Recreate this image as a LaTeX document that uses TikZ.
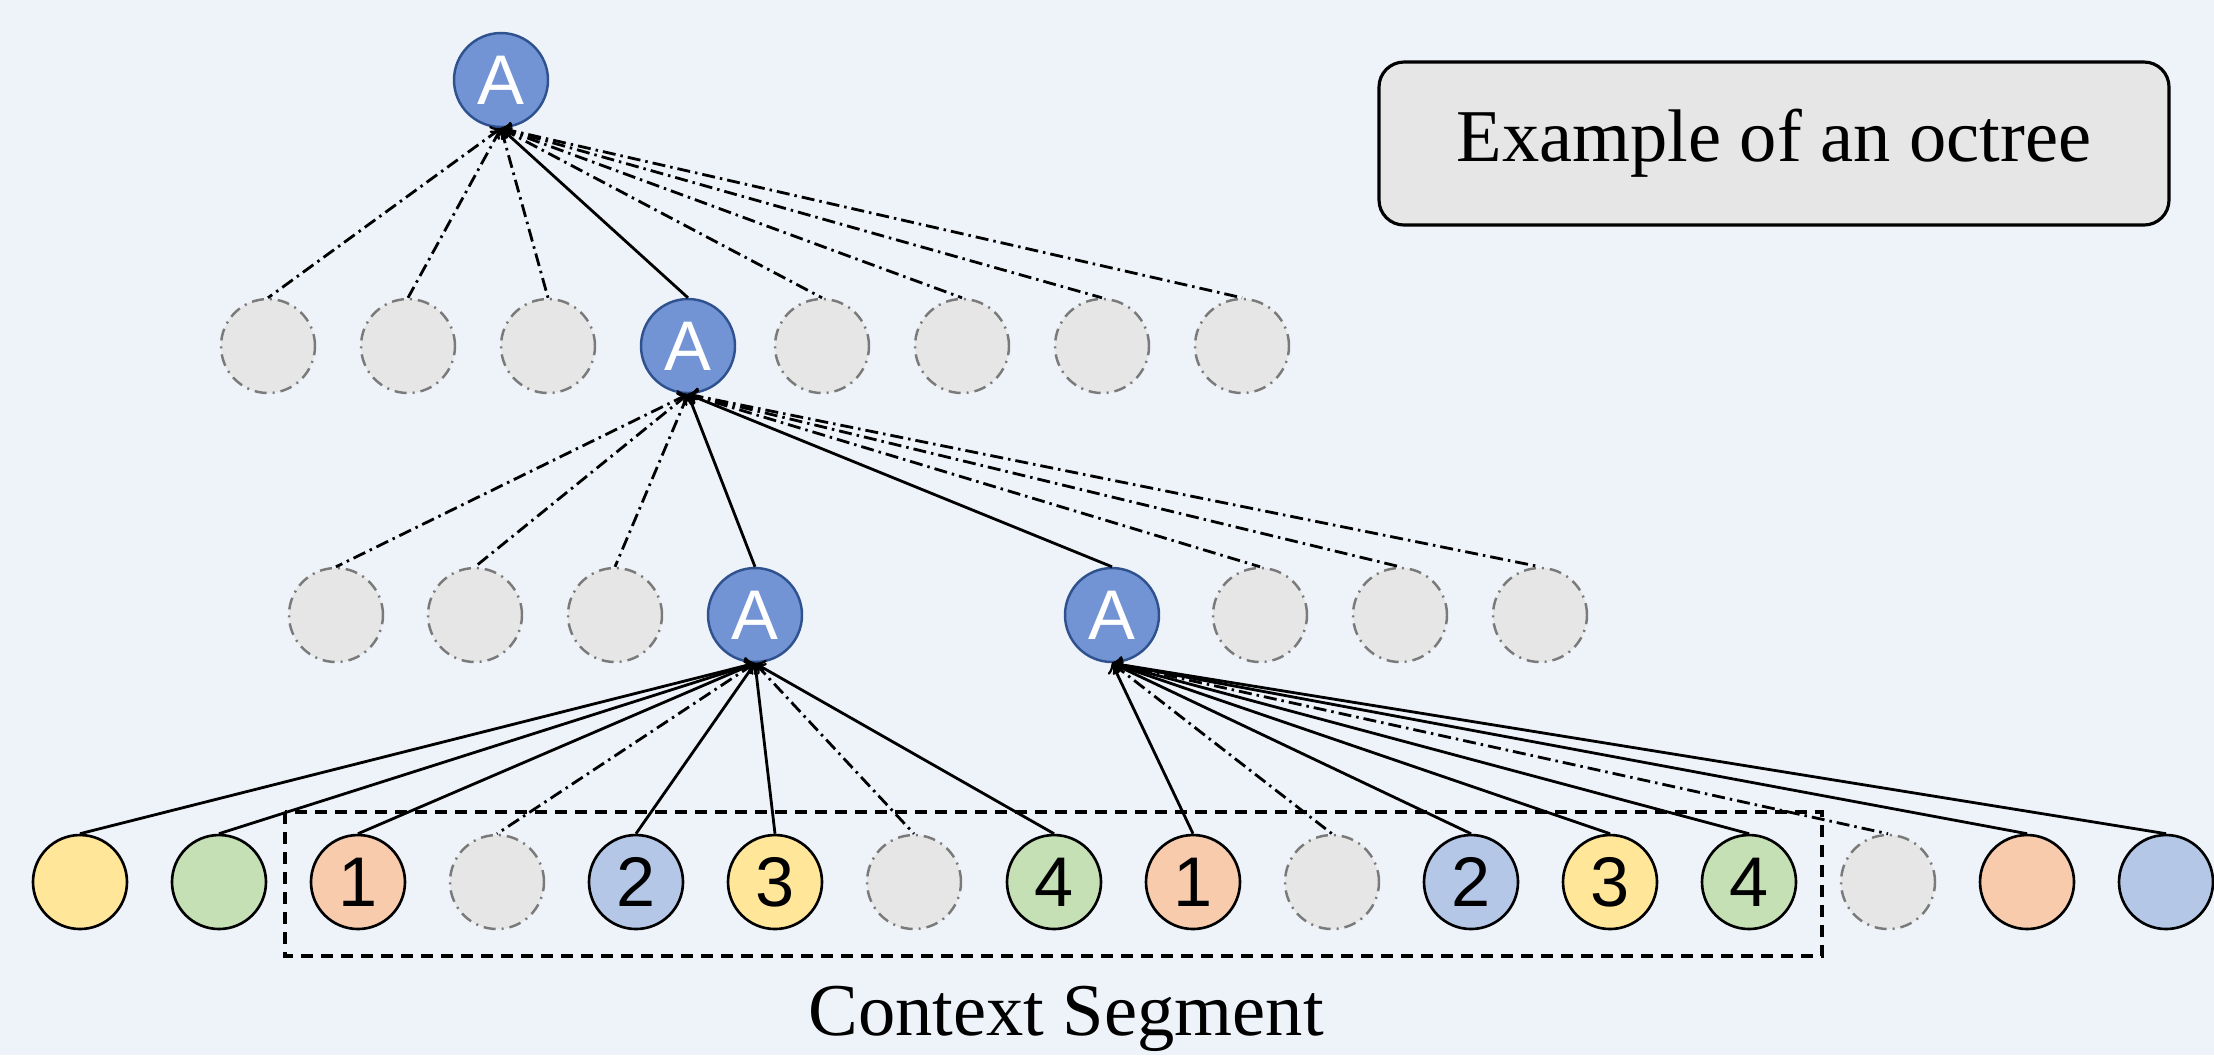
\documentclass[tikz,border=0pt]{standalone}
\usepackage{fontspec}
\setmainfont{Liberation Serif}
\newfontfamily\labelfont{Liberation Sans}
\usepackage{xcolor}
\definecolor{bgcolor}{HTML}{EEF3FA}
\definecolor{nodefill}{HTML}{7394D4}
\definecolor{nodeline}{HTML}{2F528F}
\definecolor{vacantfill}{HTML}{E7E6E6}
\definecolor{vacantline}{HTML}{7A7A7A}
\definecolor{yellowfill}{HTML}{FFE699}
\definecolor{greenfill}{HTML}{C5E0B4}
\definecolor{orangefill}{HTML}{F8CBAD}
\definecolor{bluefill}{HTML}{B4C7E7}
\newcommand{\drawbackground}{
	% background to the whole picture
	\fill[bgcolor] (0, 0) rectangle (22.14, 10.55);
}
\newcommand{\bigfont}{\fontsize{21.2}{21.2}\selectfont}
\newcommand{\digitfont}{\labelfont\fontsize{20}{20}\selectfont}
\tikzset{
	occupied/.style={circle,draw=nodeline,line width=0.7pt,fill=nodefill,text=white,minimum size=9.4mm,inner sep=0pt,font=\digitfont},
	vacant/.style={circle,draw=vacantline,line width=0.7pt,fill=vacantfill,minimum size=9.4mm,inner sep=0pt,dash pattern=on 1.2mm off 0.6mm on 0.2mm off 0.6mm},
	leaf/.style={circle,draw=black,line width=0.75pt,minimum size=9.4mm,inner sep=0pt,font=\digitfont},
	link/.style={<-,line width=0.8pt},
	ghostlink/.style={<-,line width=0.8pt,dash pattern=on 1.3mm off 0.5mm on 0.25mm off 0.5mm},
}

\begin{document}
\begin{tikzpicture}[yscale=-1]

\useasboundingbox (0, 0) rectangle (22.14, 10.55);
\drawbackground

% root
\node [occupied] (a) at (5.01, 0.80) {A};

% first level
\node [vacant] (b1) at (2.68, 3.46) {};
\node [vacant] (b2) at (4.08, 3.46) {};
\node [vacant] (b3) at (5.48, 3.46) {};
\node [occupied] (b4) at (6.88, 3.46) {A};
\node [vacant] (b5) at (8.22, 3.46) {};
\node [vacant] (b6) at (9.62, 3.46) {};
\node [vacant] (b7) at (11.02, 3.46) {};
\node [vacant] (b8) at (12.42, 3.46) {};

% second level
\node [vacant] (c1) at (3.36, 6.15) {};
\node [vacant] (c2) at (4.75, 6.15) {};
\node [vacant] (c3) at (6.15, 6.15) {};
\node [occupied] (c4) at (7.55, 6.15) {A};
\node [occupied] (c5) at (11.12, 6.15) {A};
\node [vacant] (c6) at (12.60, 6.15) {};
\node [vacant] (c7) at (14.00, 6.15) {};
\node [vacant] (c8) at (15.40, 6.15) {};

% leaves
\node [leaf,fill=yellowfill] (d1) at (0.80, 8.82) {};
\node [leaf,fill=greenfill] (d2) at (2.19, 8.82) {};
\node [leaf,fill=orangefill] (d3) at (3.58, 8.82) {1};
\node [vacant] (d4) at (4.97, 8.82) {};
\node [leaf,fill=bluefill] (d5) at (6.36, 8.82) {2};
\node [leaf,fill=yellowfill] (d6) at (7.75, 8.82) {3};
\node [vacant] (d7) at (9.14, 8.82) {};
\node [leaf,fill=greenfill] (d8) at (10.54, 8.82) {4};
\node [leaf,fill=orangefill] (d9) at (11.93, 8.82) {1};
\node [vacant] (d10) at (13.32, 8.82) {};
\node [leaf,fill=bluefill] (d11) at (14.71, 8.82) {2};
\node [leaf,fill=yellowfill] (d12) at (16.10, 8.82) {3};
\node [leaf,fill=greenfill] (d13) at (17.49, 8.82) {4};
\node [vacant] (d14) at (18.88, 8.82) {};
\node [leaf,fill=orangefill] (d15) at (20.27, 8.82) {};
\node [leaf,fill=bluefill] (d16) at (21.66, 8.82) {};

% root to first level
\draw [ghostlink] (a.south) -- (b1.north);
\draw [ghostlink] (a.south) -- (b2.north);
\draw [ghostlink] (a.south) -- (b3.north);
\draw [link] (a.south) -- (b4.north);
\draw [ghostlink] (a.south) -- (b5.north);
\draw [ghostlink] (a.south) -- (b6.north);
\draw [ghostlink] (a.south) -- (b7.north);
\draw [ghostlink] (a.south) -- (b8.north);

% first to second level
\draw [ghostlink] (b4.south) -- (c1.north);
\draw [ghostlink] (b4.south) -- (c2.north);
\draw [ghostlink] (b4.south) -- (c3.north);
\draw [link] (b4.south) -- (c4.north);
\draw [link] (b4.south) -- (c5.north);
\draw [ghostlink] (b4.south) -- (c6.north);
\draw [ghostlink] (b4.south) -- (c7.north);
\draw [ghostlink] (b4.south) -- (c8.north);

% second level to leaves
\draw [link] (c4.south) -- (d1.north);
\draw [link] (c4.south) -- (d2.north);
\draw [link] (c4.south) -- (d3.north);
\draw [ghostlink] (c4.south) -- (d4.north);
\draw [link] (c4.south) -- (d5.north);
\draw [link] (c4.south) -- (d6.north);
\draw [ghostlink] (c4.south) -- (d7.north);
\draw [link] (c4.south) -- (d8.north);
\draw [link] (c5.south) -- (d9.north);
\draw [ghostlink] (c5.south) -- (d10.north);
\draw [link] (c5.south) -- (d11.north);
\draw [link] (c5.south) -- (d12.north);
\draw [link] (c5.south) -- (d13.north);
\draw [ghostlink] (c5.south) -- (d14.north);
\draw [link] (c5.south) -- (d15.north);
\draw [link] (c5.south) -- (d16.north);

% context segment
\draw [line width=0.9pt,dash pattern=on 1.2mm off 0.8mm] (2.85, 8.12) rectangle (18.22, 9.56);
\node [font=\bigfont] (segment) at (10.66, 10.19) {Context Segment};

% title box
\node [draw,line width=0.9pt,rounded corners=2.5mm,fill=vacantfill,minimum width=7.9cm,minimum height=1.63cm,font=\bigfont] (title) at (17.74, 1.435) {Example of an octree};

\end{tikzpicture}
\end{document}
